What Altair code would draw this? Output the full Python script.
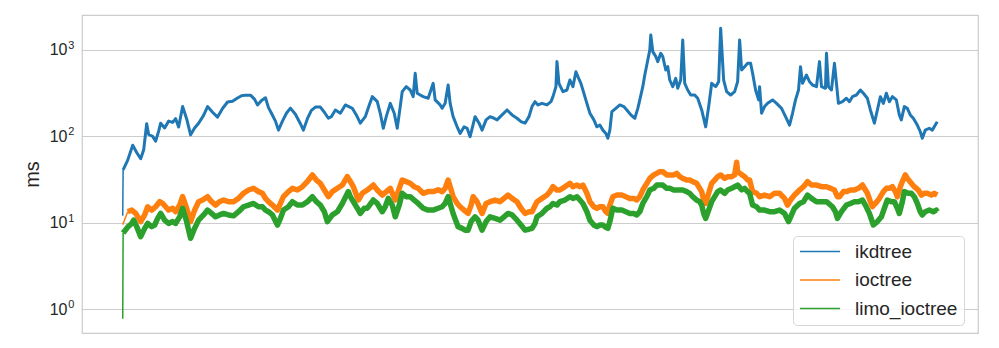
import altair as alt
import pandas as pd

# x positions are frame indices, y values in ms
series_names = ["ikdtree", "ioctree", "limo_ioctree"]
series_colors = ["#1f77b4", "#ff7f0e", "#2ca02c"]
series_widths = [3.0, 5.5, 5.5]

ikd_px = [122, 122.5, 127, 132, 136, 140, 143, 146, 148, 152, 155, 158, 160, 164, 168, 172, 175, 178, 182, 186,
          190, 194, 198, 203, 207, 212, 217, 222, 227, 232, 237, 241, 245, 250, 254, 257, 261, 265, 268, 271,
          275, 278, 282, 286, 290, 295, 300, 303, 307, 311, 315, 320, 324, 328, 331, 335, 340, 345, 352, 356,
          360, 365, 369, 372, 377, 380, 383, 386, 390, 394, 397, 400, 402, 406, 410, 413, 415, 417, 420, 423,
          428, 433, 435, 440, 442, 445, 448, 450, 453, 457, 460, 464, 467, 470, 475, 479, 482, 486, 490, 494,
          497, 502, 507, 512, 517, 521, 525, 529, 532, 535, 538, 542, 547, 551, 553, 556, 557, 559, 563, 567,
          570, 573, 576, 578, 581, 583, 587, 590, 594, 597, 600, 603, 606, 608, 610, 612, 616, 620, 624, 627,
          631, 635, 638, 640, 643, 645, 648, 650, 651, 653, 656, 658, 661, 663, 666, 668, 670, 673, 676, 678,
          681, 683, 685, 688, 691, 695, 698, 702, 706, 709, 712, 716, 719, 721, 724, 727, 731, 735, 738, 740,
          742, 745, 748, 751, 753, 756, 759, 760, 762, 765, 768, 773, 777, 782, 786, 790, 793, 796, 799, 801,
          803, 807, 810, 813, 817, 820, 822, 826, 827, 829, 832, 835, 837, 839, 843, 847, 850, 853, 857, 861,
          864, 868, 871, 875, 878, 881, 884, 887, 890, 893, 897, 900, 902, 905, 908, 911, 914, 918, 921, 923,
          926, 930, 933, 936, 938]
ikd_ms = [12, 41, 53, 79, 65, 55, 70, 140, 105, 100, 88, 115, 142, 125, 150, 145, 160, 128, 221, 160,
          104, 125, 142, 175, 221, 190, 167, 210, 250, 255, 278, 295, 300, 300, 270, 231, 260, 280, 215, 185,
          150, 118, 150, 185, 212, 180, 140, 118, 160, 200, 218, 218, 190, 162, 169, 202, 185, 231, 211, 177,
          142, 169, 231, 288, 252, 185, 124, 169, 241, 185, 124, 221, 329, 376, 344, 288, 537, 315, 301, 288,
          276, 411, 264, 231, 211, 241, 393, 241, 169, 129, 108, 129, 124, 99, 169, 142, 118, 155, 169, 162,
          155, 177, 202, 177, 162, 148, 142, 169, 221, 252, 231, 241, 231, 252, 288, 376, 733, 411, 329, 344,
          449, 376, 560, 491, 411, 344, 241, 185, 155, 129, 135, 118, 108, 95, 118, 193, 211, 231, 221, 202,
          177, 162, 211, 264, 376, 513, 766, 1000, 1493, 957, 840, 733, 915, 840, 587, 641, 449, 376, 470, 360,
          449, 1306, 411, 344, 301, 301, 276, 202, 129, 221, 411, 376, 430, 1783, 449, 329, 301, 329, 430, 1306,
          587, 641, 701, 701, 537, 344, 264, 376, 185, 221, 241, 264, 241, 211, 169, 135, 185, 264, 344, 641,
          411, 513, 430, 393, 376, 733, 376, 360, 915, 376, 344, 701, 411, 241, 252, 276, 252, 288, 301, 344,
          315, 276, 202, 142, 202, 288, 241, 315, 252, 288, 264, 177, 155, 221, 211, 177, 162, 135, 113, 95,
          118, 124, 118, 135, 148]

ioc_px = [122, 127, 131, 135, 140, 144, 147, 151, 155, 159, 162, 165, 168, 172, 175, 179, 182, 186, 190, 194,
          198, 202, 207, 211, 215, 219, 223, 228, 233, 238, 243, 248, 253, 258, 262, 265, 268, 272, 277, 280,
          283, 288, 292, 297, 302, 307, 312, 316, 320, 324, 328, 332, 337, 342, 347, 350, 353, 358, 362, 367,
          373, 377, 382, 386, 390, 395, 399, 402, 406, 410, 414, 418, 423, 428, 433, 438, 442, 445, 448, 451,
          453, 457, 460, 464, 468, 471, 473, 477, 482, 486, 490, 495, 500, 504, 508, 512, 517, 521, 525, 529,
          532, 537, 542, 547, 550, 553, 557, 560, 565, 570, 573, 577, 580, 583, 587, 590, 594, 597, 600, 603,
          606, 608, 610, 613, 617, 622, 626, 630, 634, 637, 640, 643, 647, 650, 654, 657, 660, 663, 667, 670,
          674, 677, 680, 683, 687, 690, 693, 697, 700, 702, 704, 706, 709, 712, 715, 718, 721, 725, 728, 732,
          735, 737, 738, 742, 745, 748, 750, 753, 757, 760, 765, 770, 775, 780, 785, 788, 791, 795, 800, 804,
          808, 812, 817, 822, 827, 831, 835, 838, 840, 844, 847, 851, 855, 859, 863, 866, 868, 871, 873, 876,
          880, 884, 887, 890, 893, 896, 898, 901, 903, 906, 908, 912, 915, 919, 922, 925, 928, 932, 935, 938]
ioc_ms = [9.5, 13.4, 14.0, 12.8, 10.3, 12.3, 15.3, 14.0, 15.3, 17.5, 16.7, 15.3, 14.0, 14.7, 13.4, 16.0, 20.0, 14.7, 10.3, 14.0,
          17.5, 18.3, 20.0, 17.5, 16.0, 17.5, 18.3, 17.5, 17.5, 19.1, 21.9, 23.9, 25.0, 22.9, 21.9, 19.1, 17.5, 16.0, 14.0, 16.7,
          20.0, 22.9, 25.0, 23.9, 26.1, 30.0, 35.7, 31.2, 28.6, 23.9, 20.0, 22.9, 25.0, 27.3, 34.1, 30.0, 26.1, 18.3, 21.9, 23.9,
          27.3, 23.9, 20.9, 22.9, 25.0, 18.3, 25.0, 31.2, 29.9, 28.6, 26.1, 25.0, 21.9, 22.9, 22.9, 24.0, 22.9, 25.0, 31.2, 23.9,
          20.0, 16.7, 15.3, 14.0, 12.8, 16.0, 20.0, 17.5, 12.8, 16.7, 17.5, 18.3, 17.5, 19.1, 20.9, 19.1, 17.5, 14.7, 12.8, 13.4,
          13.4, 17.5, 19.1, 20.9, 22.9, 26.1, 23.9, 23.9, 26.1, 28.6, 26.1, 27.3, 26.1, 27.3, 21.9, 17.5, 15.3, 14.7, 15.3, 15.3,
          13.4, 12.8, 16.0, 20.0, 20.9, 20.9, 20.0, 19.1, 19.1, 18.3, 20.0, 23.9, 28.6, 32.6, 35.7, 37.3, 39.0, 39.0, 35.7, 35.7,
          35.7, 37.3, 34.1, 32.6, 31.2, 31.2, 29.9, 28.6, 25.0, 22.9, 18.3, 16.7, 21.9, 28.6, 31.2, 34.1, 35.7, 32.6, 34.1, 34.1,
          35.7, 50.0, 39.0, 36.0, 34.1, 31.2, 31.2, 22.9, 21.9, 20.0, 20.9, 20.0, 21.9, 21.9, 19.1, 16.0, 18.3, 20.9, 23.9, 26.1,
          29.9, 27.3, 27.3, 26.1, 26.1, 25.0, 23.9, 20.0, 20.0, 22.9, 22.9, 23.9, 23.9, 25.0, 27.3, 23.9, 21.9, 17.5, 15.3, 16.7,
          19.1, 22.9, 25.0, 25.0, 26.1, 22.9, 20.0, 26.1, 29.9, 35.7, 32.6, 28.6, 26.1, 23.9, 20.9, 21.9, 21.9, 20.9, 21.9, 20.9]

limo_px = [122, 122.5, 127, 131, 133, 136, 140, 144, 147, 151, 154, 157, 160, 164, 168, 172, 175, 179, 182, 186,
           190, 194, 198, 203, 207, 211, 215, 219, 223, 228, 233, 238, 243, 248, 253, 258, 262, 265, 268, 272,
           277, 280, 283, 288, 292, 297, 302, 307, 312, 316, 320, 324, 327, 332, 337, 342, 348, 350, 353, 357,
           360, 364, 367, 373, 377, 382, 385, 388, 392, 395, 399, 402, 406, 410, 414, 418, 423, 428, 433, 438,
           442, 445, 448, 451, 453, 456, 458, 462, 465, 468, 471, 475, 478, 482, 486, 490, 495, 500, 504, 508,
           512, 517, 521, 525, 529, 532, 535, 537, 542, 547, 550, 553, 557, 560, 565, 570, 573, 577, 580, 583,
           587, 590, 594, 597, 600, 603, 606, 608, 610, 613, 617, 622, 626, 630, 634, 637, 640, 643, 647, 650,
           654, 657, 660, 663, 667, 670, 674, 677, 680, 683, 687, 690, 693, 697, 700, 702, 704, 706, 709, 712,
           715, 718, 721, 725, 728, 732, 735, 738, 742, 745, 748, 750, 753, 757, 760, 765, 770, 775, 780, 785,
           789, 792, 795, 800, 804, 808, 812, 817, 822, 827, 833, 836, 838, 842, 847, 851, 855, 859, 863, 866,
           870, 874, 878, 882, 885, 888, 892, 895, 898, 900, 903, 905, 909, 912, 915, 918, 921, 923, 926, 930,
           934, 937, 938]
limo_ms = [0.77, 7.6, 8.9, 9.8, 10.7, 9.0, 6.9, 8.6, 9.8, 9.0, 9.4, 11.2, 12.8, 10.7, 9.8, 10.3, 9.8, 11.7, 14.7, 10.3,
           6.6, 8.6, 10.7, 12.3, 14.0, 12.8, 11.7, 12.3, 12.8, 12.3, 12.0, 13.4, 15.3, 16.0, 16.7, 15.3, 15.3, 14.0, 13.4, 12.3,
           9.4, 11.2, 14.0, 15.3, 17.5, 16.0, 16.0, 17.5, 20.0, 17.5, 16.0, 13.4, 10.3, 12.3, 13.4, 16.7, 22.9, 20.0, 17.5, 14.7,
           12.8, 14.7, 14.7, 18.3, 16.7, 13.4, 15.3, 19.1, 16.0, 11.7, 16.0, 21.9, 20.0, 20.0, 18.3, 16.7, 14.7, 14.0, 14.0, 14.7,
           15.3, 16.7, 20.0, 15.3, 12.8, 10.3, 9.0, 8.6, 8.2, 8.2, 10.3, 11.7, 10.7, 8.2, 10.3, 11.7, 11.2, 10.7, 11.7, 12.8,
           12.3, 10.7, 9.4, 8.2, 8.4, 8.6, 9.8, 11.7, 12.8, 14.7, 15.3, 16.7, 16.0, 17.5, 18.3, 20.0, 19.1, 20.0, 18.3, 16.7,
           13.4, 10.7, 9.4, 9.0, 9.4, 9.4, 8.8, 8.6, 10.3, 14.7, 14.0, 14.0, 13.4, 12.8, 12.8, 12.3, 13.4, 16.7, 20.0, 23.9,
           25.0, 27.3, 27.3, 27.3, 25.0, 25.0, 23.9, 23.9, 23.9, 23.9, 22.9, 21.9, 20.0, 18.3, 17.5, 16.0, 12.8, 11.2, 14.0, 17.5,
           20.0, 22.9, 23.9, 21.9, 23.9, 25.0, 26.1, 27.3, 24.0, 25.0, 22.9, 21.9, 16.0, 15.3, 14.0, 14.0, 13.4, 13.4, 14.0, 12.8,
           10.3, 12.3, 14.7, 16.7, 17.5, 20.9, 19.1, 17.5, 17.5, 17.5, 15.3, 13.4, 11.2, 13.4, 16.0, 16.7, 17.5, 17.5, 18.3, 16.0,
           12.8, 9.4, 10.3, 11.7, 14.7, 18.3, 17.5, 17.5, 14.7, 12.8, 17.5, 22.9, 21.9, 21.9, 20.0, 16.7, 13.4, 12.3, 13.4, 14.0,
           13.4, 14.0, 13.4]

tick_values = [1, 10, 100, 1000]
tick_exponents = ["0", "1", "2", "3"]


def frames(px_list):
    # pixel positions -> frame index of the run
    return [round((p - 122) * 5) for p in px_list]


rows = []
for name, pxs, vals in [("ikdtree", ikd_px, ikd_ms), ("ioctree", ioc_px, ioc_ms), ("limo_ioctree", limo_px, limo_ms)]:
    for i, (f, v) in enumerate(zip(frames(pxs), vals)):
        rows.append({"series": name, "frame": f, "ms": v, "order": i})
df = pd.DataFrame(rows)

FONT = "Liberation Sans"
TEXT = "#262626"

x_scale = alt.Scale(domain=[-204, 4284], nice=False, zero=False)
y_scale = alt.Scale(type="log", domain=[0.528, 2541], nice=False)

y_axis = alt.Axis(values=tick_values, grid=True, gridColor="#cccccc", gridWidth=1,
                  domain=False, ticks=False, labelExpr="'10'", labelFontSize=16,
                  labelColor=TEXT, labelFont=FONT, labelPadding=15,
                  title="ms", titleFontSize=20, titleFont=FONT, titleColor=TEXT,
                  titleFontWeight="normal", titleAngle=270, titleX=-44, titleY=159,
                  titleAlign="center", titleBaseline="alphabetic")
legend = alt.Legend(orient="none", legendX=711, legendY=221, title=None,
                    symbolType="stroke", symbolSize=1600, symbolStrokeWidth=1.5,
                    clipHeight=19, labelFontSize=19, labelFont=FONT, labelColor=TEXT,
                    labelOffset=14, padding=6, rowPadding=8.5, cornerRadius=4,
                    strokeColor="#d6d6d6", fillColor="rgba(255,255,255,0.8)")
color = alt.Color("series:N", scale=alt.Scale(domain=series_names, range=series_colors), legend=legend)

layers = []
for name, w in zip(series_names, series_widths):
    base = alt.Chart(df).encode(
        x=alt.X("frame:Q", scale=x_scale, axis=None),
        y=alt.Y("ms:Q", scale=y_scale, axis=y_axis),
        color=color,
        order=alt.Order("order:Q"),
    )
    # the very first sample (start-up jump) is drawn thin, the rest as the noisy band
    layers.append(base.transform_filter((alt.datum.series == name) & (alt.datum.order <= 1))
                  .mark_line(strokeWidth=1.5))
    layers.append(base.transform_filter((alt.datum.series == name) & (alt.datum.order >= 1))
                  .mark_line(strokeWidth=w, strokeJoin="round"))

exp_df = pd.DataFrame({"v": tick_values, "e": tick_exponents})
exps = alt.Chart(exp_df).mark_text(align="left", baseline="middle", fontSize=11, font=FONT,
                                   color=TEXT, dy=-4).encode(
    x=alt.value(-13.7),
    y=alt.Y("v:Q", scale=y_scale),
    text="e:N",
)

chart = alt.layer(*layers, exps).properties(
    width=896, height=318,
    autosize=alt.AutoSizeParams(type="none"),
    padding={"left": 74, "top": 7, "right": 13, "bottom": 7},
    background="white",
).configure_view(stroke="#cccccc", strokeWidth=1.25)

chart.save("out.html", embed_options={"renderer": "svg", "actions": False})
